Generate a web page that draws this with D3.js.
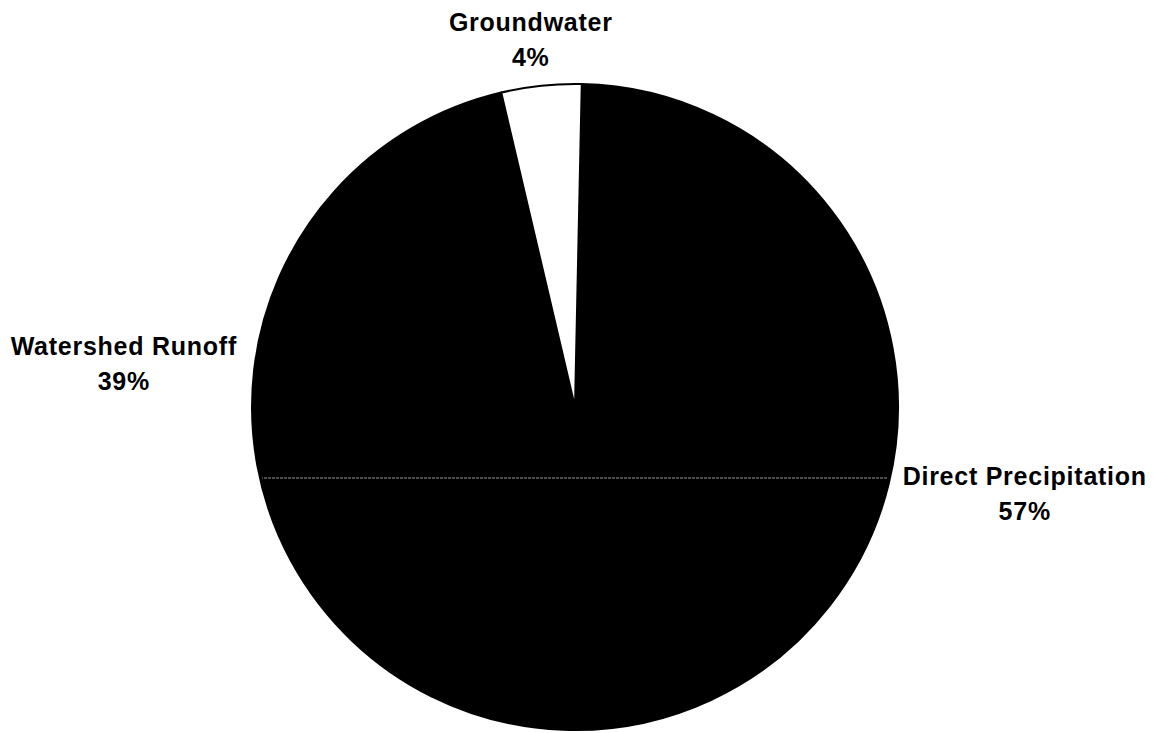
<!DOCTYPE html>
<html>
<head>
<meta charset="utf-8">
<script src="https://cdn.jsdelivr.net/npm/d3@7"></script>
<style>
  html, body { margin: 0; padding: 0; background: #fff; }
  svg { display: block; }
  text { font-family: "Liberation Sans", Arial, sans-serif; font-weight: bold; fill: #000; }
</style>
</head>
<body>
<svg id="chart" width="1153" height="733"></svg>
<script>
// Inflow sources, in the order they are drawn clockwise
const categories = ["Direct Precipitation", "Watershed Runoff", "Groundwater"];
const shares = [57, 39, 4];
const fills = ["#000000", "#000000", "#ffffff"];

const W = 1153, H = 733;
const cx = 575, cy = 407, radius = 323;
const rotation = 1.2 * Math.PI / 180;   // first slice starts just past 12 o'clock

const svg = d3.select("#chart");
const g = svg.append("g").attr("transform", `translate(${cx},${cy})`);

const pie = d3.pie().sort(null).value(d => d.value)
  .startAngle(rotation).endAngle(rotation + 2 * Math.PI);
const data = pie(categories.map((c, i) => ({ name: c, value: shares[i], fill: fills[i] })));

const arc = d3.arc().innerRadius(0).outerRadius(radius);

g.selectAll("path.slice")
  .data(data)
  .join("path")
  .attr("class", "slice")
  .attr("d", arc)
  .attr("fill", d => d.data.fill)
  .attr("stroke", "#000")
  .attr("stroke-width", 2)
  .attr("stroke-linejoin", "round");

// thin grey rule across the lower half, kept inside the disc
svg.append("clipPath").attr("id", "disc")
  .append("circle").attr("cx", cx).attr("cy", cy).attr("r", radius - 2);
svg.append("line")
  .attr("clip-path", "url(#disc)")
  .attr("x1", cx - radius).attr("x2", cx + radius)
  .attr("y1", cy + 71).attr("y2", cy + 71)
  .attr("stroke", "#9a9a9a").attr("stroke-width", 1)
  .attr("stroke-dasharray", "3,1");

// outside labels: name and percentage, pushed out along each slice's mid-angle
const fontSize = 25, lineGap = 35;
const gapX = 18, gapY = 10;
const labels = svg.append("g");
data.forEach(d => {
  const a = (d.startAngle + d.endAngle) / 2;
  const sx = Math.sin(a), sy = -Math.cos(a);
  const px = cx + (radius + gapX) * sx, py = cy + (radius + gapY) * sy;
  const t = labels.append("text")
    .attr("text-anchor", "middle")
    .style("font-size", fontSize + "px")
    .style("letter-spacing", "0.75px");
  const lines = [d.data.name, d.data.value + "%"];
  const spans = t.selectAll("tspan").data(lines).join("tspan")
    .attr("x", 0)
    .attr("y", (_, i) => i * lineGap)
    .text(s => s);
  const boxW = d3.max(spans.nodes(), n => n.getComputedTextLength());
  const boxH = 2 * lineGap;
  const bx = px + (boxW / 2) * sx;
  const by = py + (boxH / 2) * sy;
  spans.attr("x", bx).attr("y", (_, i) => by - 10 + i * lineGap);
});
</script>
</body>
</html>
